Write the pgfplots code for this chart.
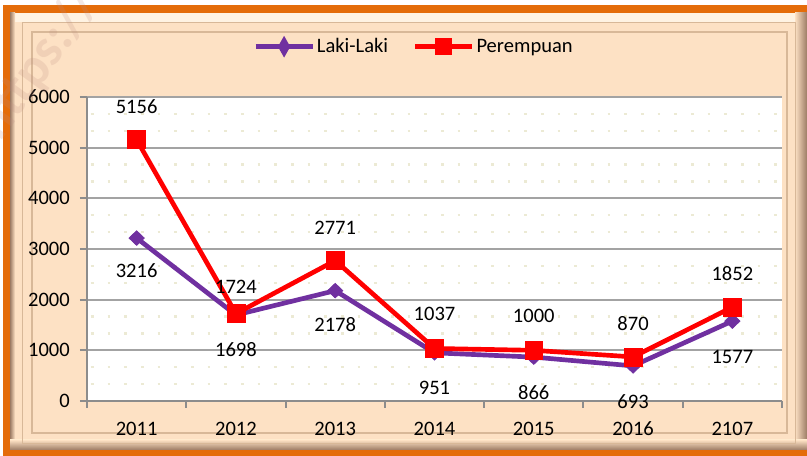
\documentclass[border=0pt]{standalone}
\usepackage{pgfplots}
\pgfplotsset{compat=1.18}
\usepackage{fontspec}
\setmainfont{Carlito}
\definecolor{frameorange}{HTML}{E46C0A}
\definecolor{peach}{HTML}{FDE1C4}
\definecolor{peachlight}{HTML}{FFF3E3}
\definecolor{peachdark}{HTML}{9C7B64}
\definecolor{peachline}{HTML}{D8B898}
\definecolor{laki}{HTML}{7030A0}
\definecolor{perem}{HTML}{FF0000}
\definecolor{gridgray}{HTML}{A3A3A3}
\definecolor{axisgray}{HTML}{8C8C8C}
\definecolor{dotcol}{HTML}{ECEAD4}
\newcommand\cf{\fontsize{15.4}{18}\selectfont}
\pgfplotstableread{
x y off
0 3216 -24.75
1 1698 -26.25
2 2178 -25.8
3 951 -26.25
4 866 -26.25
5 693 -26.7
6 1577 -26.55
}\laki
\pgfplotstableread{
x y off
0 5156 25.1
1 1724 20
2 2771 24.45
3 1037 25.9
4 1000 25.5
5 870 25.3
6 1852 25.5
}\perem
\begin{document}
\begin{tikzpicture}[x=0.75pt,y=0.75pt,font=\cf]
\path[use as bounding box] (0,0) rectangle (807,456);
\fill[white] (0,0) rectangle (807,456);
\fill[frameorange] (3,0) rectangle (807,451);
\fill[peach] (10,6) rectangle (807,443);
\fill[peachlight] (10,434) rectangle (807,443);
\shade[left color=peachdark, right color=peach] (10,6) rectangle (15,443);
\shade[left color=peach, right color=peachdark] (795,6) rectangle (807,443);
\shade[top color=peach, bottom color=peachdark] (10,6) rectangle (807,16);
\draw[peachline, line width=0.6pt] (22,13) rectangle (795,434);
\fill[peach] (32,23) rectangle (787,424);
\draw[peachline, line width=0.8pt] (32,23) rectangle (787,424);
\begin{axis}[
  at={(65.25pt,41.25pt)}, anchor=south west,
  scale only axis, width=521.25pt, height=228pt,
  xmin=-0.5, xmax=6.5, ymin=0, ymax=6000,
  clip=false,
  axis x line=bottom, axis y line=left,
  axis line style={axisgray, line width=1.5pt, -},
  axis background/.style={fill=white},
  xtick={0,...,6},
  xticklabels={2011,2012,2013,2014,2015,2016,2107},
  minor xtick={-0.5,0.5,...,6.5},
  ytick={0,1000,...,6000},
  minor y tick num=2,
  tick align=outside,
  major tick length=5.25pt, minor tick length=5.25pt,
  major x tick style={draw=none},
  minor x tick style={axisgray, line width=1.5pt},
  major y tick style={axisgray, line width=1.5pt},
  minor y tick style={draw=none},
  ymajorgrids, yminorgrids,
  major grid style={gridgray, line width=1.5pt},
  minor grid style={dotcol, line width=1.9pt, dash pattern=on 1.9pt off 10.6pt, dash phase=-3pt},
  /pgf/number format/1000 sep={},
  /pgf/number format/assume math mode=true,
  tick label style={font=\cf, text=black},
  yticklabel style={inner sep=0pt, xshift=-7.5pt},
  xticklabel style={inner sep=0pt, yshift=-10.5pt, text height=9.8pt, text depth=0pt},
  legend columns=2,
  legend style={at={(0.2388,1.1655)}, anchor=west, draw=none, fill=none,
    font=\cf, inner sep=0pt, nodes={inner sep=1.5pt},
    /tikz/every even column/.append style={column sep=17pt}},
  nodes near coords style={font=\cf, text=black, anchor=center},
]
\addplot[laki, line width=3.5pt, mark=diamond*, mark size=5.5pt,
  mark options={solid, line width=0.5pt, xscale=1.4},
  nodes near coords,
  visualization depends on={\thisrow{off} \as \myoff},
  every node near coord/.append style={yshift=\myoff pt, text=black},
  legend image code/.code={
    \draw[laki, line width=3.5pt] (0pt,0pt) -- (42.75pt,0pt);
    \fill[laki] (21.4pt,4.6pt) -- (24pt,0pt) -- (21.4pt,-4.6pt) -- (18.8pt,0pt) -- cycle;
  }]
  table[x=x,y=y] {\laki};
\addlegendentry{Laki-Laki}
\addplot[perem, line width=3.5pt, mark=square*, mark size=6.7pt,
  mark options={solid, line width=0.5pt},
  nodes near coords,
  visualization depends on={\thisrow{off} \as \myoff},
  every node near coord/.append style={yshift=\myoff pt, text=black},
  legend image code/.code={
    \draw[perem, line width=3.5pt] (0pt,0pt) -- (42.75pt,0pt);
    \fill[perem] (16.9pt,-4.5pt) rectangle (25.9pt,4.5pt);
  }]
  table[x=x,y=y] {\perem};
\addlegendentry{Perempuan}
\end{axis}
\begin{scope}
\clip (0,0) rectangle (807,456);
\node[rotate=54, anchor=base west, font=\fontsize{40}{46}\selectfont\bfseries,
  text={rgb,255:red,190;green,140;blue,130}, opacity=0.2, inner sep=0pt]
  at (0,313) {https://};
\end{scope}
\end{tikzpicture}
\end{document}
